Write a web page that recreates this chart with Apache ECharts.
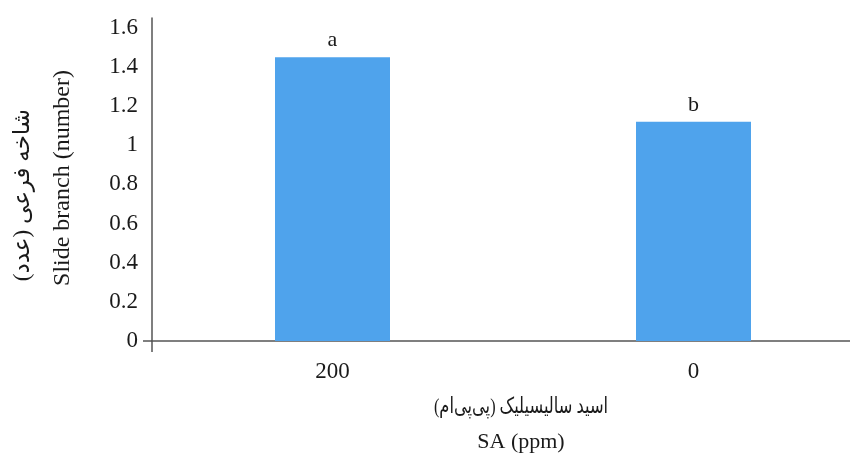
<!DOCTYPE html>
<html>
<head>
<meta charset="utf-8">
<style>html,body{margin:0;padding:0;background:#fff;}#c{width:850px;height:457px;}</style>
<script src="https://cdn.jsdelivr.net/npm/echarts@6/dist/echarts.min.js"></script>
</head>
<body>
<div id="c"></div>
<script>
var categories = ['200', '0'];
var values = [1.45, 1.12];
var letters = ['a', 'b'];
var yTitleFa = 'شاخه فرعی (عدد)';
var yTitleEn = 'Slide branch (number)';
var xTitleFa = 'اسید سالیسیلیک (پی‌پی‌ام)';
var xTitleEn = 'SA (ppm)';

var FONT = '"Liberation Serif", "DejaVu Serif", "DejaVu Sans", serif';
var AXIS = '#555555';
var chart = echarts.init(document.getElementById('c'));
chart.setOption({
  animation: false,
  grid: {left: 152, width: 722, top: 18, height: 323, outerBoundsMode: 'none', containLabel: false},
  xAxis: {
    type: 'category',
    data: categories,
    axisLine: {lineStyle: {color: AXIS, width: 1.5}},
    axisTick: {show: true, length: 11, lineStyle: {color: AXIS, width: 1.5},
      interval: function (i) { return i === 0; }},
    axisLabel: {color: '#1a1a1a', fontFamily: FONT, fontSize: 23, margin: 19}
  },
  yAxis: {
    type: 'value',
    min: 0, max: 1.65, interval: 0.2,
    splitLine: {show: false},
    axisLine: {show: true, lineStyle: {color: AXIS, width: 1.5}},
    axisTick: {show: false},
    axisLabel: {color: '#1a1a1a', fontFamily: FONT, fontSize: 23, margin: 14, showMaxLabel: false,
      formatter: function (v) { return String(Math.round(v * 10) / 10); }}
  },
  series: [{
    type: 'bar',
    data: values,
    barWidth: 115,
    itemStyle: {color: '#4fa3ec'},
    label: {show: true, position: 'top', distance: 6, color: '#1a1a1a', fontFamily: FONT, fontSize: 22,
      formatter: function (p) { return letters[p.dataIndex]; }}
  }],
  graphic: [
    {type: 'text', x: 23, y: 195, rotation: Math.PI / 2,
      style: {text: yTitleFa, fontFamily: FONT, fontSize: 23, fill: '#1a1a1a', align: 'center', verticalAlign: 'middle'}},
    {type: 'text', x: 63, y: 178, rotation: Math.PI / 2,
      style: {text: yTitleEn, fontFamily: FONT, fontSize: 24, fill: '#1a1a1a', align: 'center', verticalAlign: 'middle'}},
    {type: 'text', x: 521, y: 407, scaleX: 0.74,
      style: {text: xTitleFa, fontFamily: FONT, fontSize: 22, fill: '#1a1a1a', align: 'center', verticalAlign: 'middle'}},
    {type: 'text', x: 521, y: 442,
      style: {text: xTitleEn, fontFamily: FONT, fontSize: 22, fill: '#1a1a1a', align: 'center', verticalAlign: 'middle'}},
    {type: 'line', shape: {x1: 143, y1: 341, x2: 152, y2: 341}, style: {stroke: AXIS, lineWidth: 1.5}}
  ]
});
var yz = chart.convertToPixel({yAxisIndex: 0}, 0);
var xz = chart.convertToPixel({gridIndex: 0}, [0, 0])[0] - 180.5;
chart.setOption({graphic: [{}, {}, {}, {}, {type: 'line', shape: {x1: xz - 9, y1: yz, x2: xz, y2: yz}}]});
</script>
</body>
</html>
